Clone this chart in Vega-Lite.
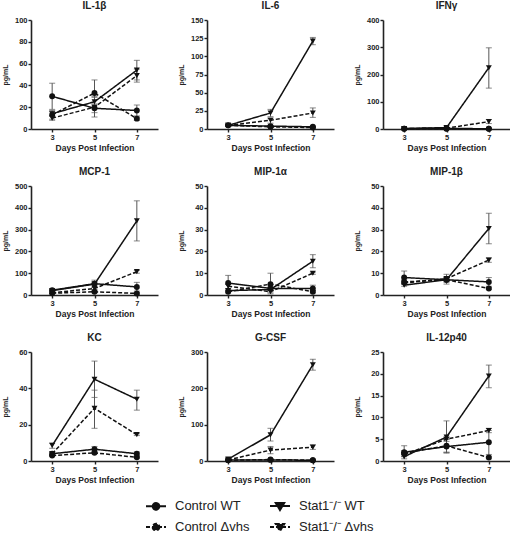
{
"$schema": "https://vega.github.io/schema/vega-lite/v6.json",
"padding": {"left": 1, "top": 1, "right": 0, "bottom": 0},
"data": {"values": [
{"c":"IL-1β","g":"Control WT","d":3,"m":30,"lo":18,"hi":42},
{"c":"IL-1β","g":"Control WT","d":5,"m":19,"lo":15,"hi":23},
{"c":"IL-1β","g":"Control WT","d":7,"m":17,"lo":12,"hi":22},
{"c":"IL-1β","g":"Control Δvhs","d":3,"m":13,"lo":9,"hi":17},
{"c":"IL-1β","g":"Control Δvhs","d":5,"m":33,"lo":22,"hi":45},
{"c":"IL-1β","g":"Control Δvhs","d":7,"m":9.5,"lo":8,"hi":11},
{"c":"IL-1β","g":"Stat1⁻/⁻ WT","d":3,"m":14,"lo":12,"hi":16},
{"c":"IL-1β","g":"Stat1⁻/⁻ WT","d":5,"m":25,"lo":20,"hi":30},
{"c":"IL-1β","g":"Stat1⁻/⁻ WT","d":7,"m":54,"lo":45,"hi":63},
{"c":"IL-1β","g":"Stat1⁻/⁻ Δvhs","d":3,"m":10,"lo":8,"hi":12},
{"c":"IL-1β","g":"Stat1⁻/⁻ Δvhs","d":5,"m":20,"lo":11,"hi":29},
{"c":"IL-1β","g":"Stat1⁻/⁻ Δvhs","d":7,"m":49,"lo":43,"hi":55},
{"c":"IL-6","g":"Control WT","d":3,"m":5,"lo":4,"hi":6},
{"c":"IL-6","g":"Control WT","d":5,"m":4,"lo":3,"hi":5},
{"c":"IL-6","g":"Control WT","d":7,"m":3,"lo":2,"hi":4},
{"c":"IL-6","g":"Control Δvhs","d":3,"m":5,"lo":4,"hi":6},
{"c":"IL-6","g":"Control Δvhs","d":5,"m":3,"lo":2,"hi":4},
{"c":"IL-6","g":"Control Δvhs","d":7,"m":2,"lo":1,"hi":3},
{"c":"IL-6","g":"Stat1⁻/⁻ WT","d":3,"m":5,"lo":4,"hi":6},
{"c":"IL-6","g":"Stat1⁻/⁻ WT","d":5,"m":22,"lo":17,"hi":27},
{"c":"IL-6","g":"Stat1⁻/⁻ WT","d":7,"m":121,"lo":116,"hi":126},
{"c":"IL-6","g":"Stat1⁻/⁻ Δvhs","d":3,"m":5,"lo":4,"hi":6},
{"c":"IL-6","g":"Stat1⁻/⁻ Δvhs","d":5,"m":12,"lo":8,"hi":15},
{"c":"IL-6","g":"Stat1⁻/⁻ Δvhs","d":7,"m":22,"lo":16,"hi":29},
{"c":"IFNγ","g":"Control WT","d":3,"m":1,"lo":1,"hi":1},
{"c":"IFNγ","g":"Control WT","d":5,"m":2,"lo":2,"hi":2},
{"c":"IFNγ","g":"Control WT","d":7,"m":1,"lo":1,"hi":1},
{"c":"IFNγ","g":"Control Δvhs","d":3,"m":1,"lo":1,"hi":1},
{"c":"IFNγ","g":"Control Δvhs","d":5,"m":1,"lo":1,"hi":1},
{"c":"IFNγ","g":"Control Δvhs","d":7,"m":1,"lo":1,"hi":1},
{"c":"IFNγ","g":"Stat1⁻/⁻ WT","d":3,"m":2,"lo":2,"hi":2},
{"c":"IFNγ","g":"Stat1⁻/⁻ WT","d":5,"m":5,"lo":3,"hi":7},
{"c":"IFNγ","g":"Stat1⁻/⁻ WT","d":7,"m":225,"lo":150,"hi":298},
{"c":"IFNγ","g":"Stat1⁻/⁻ Δvhs","d":3,"m":2,"lo":2,"hi":2},
{"c":"IFNγ","g":"Stat1⁻/⁻ Δvhs","d":5,"m":3,"lo":2,"hi":4},
{"c":"IFNγ","g":"Stat1⁻/⁻ Δvhs","d":7,"m":27,"lo":20,"hi":35},
{"c":"MCP-1","g":"Control WT","d":3,"m":22,"lo":15,"hi":28},
{"c":"MCP-1","g":"Control WT","d":5,"m":52,"lo":45,"hi":60},
{"c":"MCP-1","g":"Control WT","d":7,"m":37,"lo":18,"hi":58},
{"c":"MCP-1","g":"Control Δvhs","d":3,"m":8,"lo":5,"hi":11},
{"c":"MCP-1","g":"Control Δvhs","d":5,"m":15,"lo":10,"hi":20},
{"c":"MCP-1","g":"Control Δvhs","d":7,"m":7,"lo":3,"hi":11},
{"c":"MCP-1","g":"Stat1⁻/⁻ WT","d":3,"m":20,"lo":15,"hi":25},
{"c":"MCP-1","g":"Stat1⁻/⁻ WT","d":5,"m":50,"lo":35,"hi":68},
{"c":"MCP-1","g":"Stat1⁻/⁻ WT","d":7,"m":340,"lo":248,"hi":432},
{"c":"MCP-1","g":"Stat1⁻/⁻ Δvhs","d":3,"m":10,"lo":7,"hi":13},
{"c":"MCP-1","g":"Stat1⁻/⁻ Δvhs","d":5,"m":30,"lo":25,"hi":35},
{"c":"MCP-1","g":"Stat1⁻/⁻ Δvhs","d":7,"m":107,"lo":100,"hi":113},
{"c":"MIP-1α","g":"Control WT","d":3,"m":5.5,"lo":2,"hi":9},
{"c":"MIP-1α","g":"Control WT","d":5,"m":3,"lo":2,"hi":4},
{"c":"MIP-1α","g":"Control WT","d":7,"m":3,"lo":2,"hi":4.5},
{"c":"MIP-1α","g":"Control Δvhs","d":3,"m":1.5,"lo":1,"hi":2},
{"c":"MIP-1α","g":"Control Δvhs","d":5,"m":5,"lo":0.5,"hi":10},
{"c":"MIP-1α","g":"Control Δvhs","d":7,"m":1.5,"lo":1,"hi":2},
{"c":"MIP-1α","g":"Stat1⁻/⁻ WT","d":3,"m":2,"lo":1.5,"hi":2.5},
{"c":"MIP-1α","g":"Stat1⁻/⁻ WT","d":5,"m":2.5,"lo":2,"hi":3},
{"c":"MIP-1α","g":"Stat1⁻/⁻ WT","d":7,"m":15.5,"lo":12.5,"hi":18.5},
{"c":"MIP-1α","g":"Stat1⁻/⁻ Δvhs","d":3,"m":4,"lo":3,"hi":5},
{"c":"MIP-1α","g":"Stat1⁻/⁻ Δvhs","d":5,"m":1.5,"lo":1,"hi":2},
{"c":"MIP-1α","g":"Stat1⁻/⁻ Δvhs","d":7,"m":10,"lo":9.5,"hi":10.5},
{"c":"MIP-1β","g":"Control WT","d":3,"m":8,"lo":5.5,"hi":11},
{"c":"MIP-1β","g":"Control WT","d":5,"m":7,"lo":5,"hi":9.5},
{"c":"MIP-1β","g":"Control WT","d":7,"m":6,"lo":4,"hi":8},
{"c":"MIP-1β","g":"Control Δvhs","d":3,"m":6,"lo":5,"hi":7},
{"c":"MIP-1β","g":"Control Δvhs","d":5,"m":7,"lo":6,"hi":8},
{"c":"MIP-1β","g":"Control Δvhs","d":7,"m":3,"lo":2.5,"hi":3.5},
{"c":"MIP-1β","g":"Stat1⁻/⁻ WT","d":3,"m":4.5,"lo":4,"hi":5},
{"c":"MIP-1β","g":"Stat1⁻/⁻ WT","d":5,"m":7,"lo":6,"hi":8},
{"c":"MIP-1β","g":"Stat1⁻/⁻ WT","d":7,"m":30.5,"lo":23.5,"hi":37.5},
{"c":"MIP-1β","g":"Stat1⁻/⁻ Δvhs","d":3,"m":5.5,"lo":5,"hi":6},
{"c":"MIP-1β","g":"Stat1⁻/⁻ Δvhs","d":5,"m":7.5,"lo":6.5,"hi":8.5},
{"c":"MIP-1β","g":"Stat1⁻/⁻ Δvhs","d":7,"m":16,"lo":15,"hi":17},
{"c":"KC","g":"Control WT","d":3,"m":4,"lo":3,"hi":5},
{"c":"KC","g":"Control WT","d":5,"m":6.5,"lo":5,"hi":8},
{"c":"KC","g":"Control WT","d":7,"m":4,"lo":3,"hi":5},
{"c":"KC","g":"Control Δvhs","d":3,"m":3,"lo":2.5,"hi":3.5},
{"c":"KC","g":"Control Δvhs","d":5,"m":4.5,"lo":4,"hi":5},
{"c":"KC","g":"Control Δvhs","d":7,"m":2,"lo":1.5,"hi":2.5},
{"c":"KC","g":"Stat1⁻/⁻ WT","d":3,"m":8.5,"lo":7,"hi":10},
{"c":"KC","g":"Stat1⁻/⁻ WT","d":5,"m":45,"lo":35,"hi":55},
{"c":"KC","g":"Stat1⁻/⁻ WT","d":7,"m":34,"lo":28,"hi":39},
{"c":"KC","g":"Stat1⁻/⁻ Δvhs","d":3,"m":4,"lo":3,"hi":5},
{"c":"KC","g":"Stat1⁻/⁻ Δvhs","d":5,"m":29,"lo":18,"hi":39},
{"c":"KC","g":"Stat1⁻/⁻ Δvhs","d":7,"m":14.5,"lo":14,"hi":15},
{"c":"G-CSF","g":"Control WT","d":3,"m":3,"lo":3,"hi":3},
{"c":"G-CSF","g":"Control WT","d":5,"m":3,"lo":3,"hi":3},
{"c":"G-CSF","g":"Control WT","d":7,"m":2,"lo":2,"hi":2},
{"c":"G-CSF","g":"Control Δvhs","d":3,"m":2,"lo":2,"hi":2},
{"c":"G-CSF","g":"Control Δvhs","d":5,"m":4,"lo":4,"hi":4},
{"c":"G-CSF","g":"Control Δvhs","d":7,"m":2,"lo":2,"hi":2},
{"c":"G-CSF","g":"Stat1⁻/⁻ WT","d":3,"m":5,"lo":3,"hi":7},
{"c":"G-CSF","g":"Stat1⁻/⁻ WT","d":5,"m":72,"lo":55,"hi":90},
{"c":"G-CSF","g":"Stat1⁻/⁻ WT","d":7,"m":265,"lo":250,"hi":280},
{"c":"G-CSF","g":"Stat1⁻/⁻ Δvhs","d":3,"m":3,"lo":3,"hi":3},
{"c":"G-CSF","g":"Stat1⁻/⁻ Δvhs","d":5,"m":30,"lo":20,"hi":40},
{"c":"G-CSF","g":"Stat1⁻/⁻ Δvhs","d":7,"m":38,"lo":32,"hi":45},
{"c":"IL-12p40","g":"Control WT","d":3,"m":2,"lo":1,"hi":3.5},
{"c":"IL-12p40","g":"Control WT","d":5,"m":3.3,"lo":1.8,"hi":5},
{"c":"IL-12p40","g":"Control WT","d":7,"m":4.3,"lo":1.5,"hi":7},
{"c":"IL-12p40","g":"Control Δvhs","d":3,"m":1.8,"lo":1.2,"hi":2.4},
{"c":"IL-12p40","g":"Control Δvhs","d":5,"m":3.5,"lo":2,"hi":5},
{"c":"IL-12p40","g":"Control Δvhs","d":7,"m":0.8,"lo":0.5,"hi":1.1},
{"c":"IL-12p40","g":"Stat1⁻/⁻ WT","d":3,"m":1,"lo":0.5,"hi":1.5},
{"c":"IL-12p40","g":"Stat1⁻/⁻ WT","d":5,"m":5.5,"lo":2,"hi":9.2},
{"c":"IL-12p40","g":"Stat1⁻/⁻ WT","d":7,"m":19.5,"lo":16.8,"hi":22},
{"c":"IL-12p40","g":"Stat1⁻/⁻ Δvhs","d":3,"m":1.5,"lo":1,"hi":2},
{"c":"IL-12p40","g":"Stat1⁻/⁻ Δvhs","d":5,"m":5,"lo":4.5,"hi":5.5},
{"c":"IL-12p40","g":"Stat1⁻/⁻ Δvhs","d":7,"m":7,"lo":6.5,"hi":7.5}
]},
"columns": 3,
"spacing": {"row": 15, "column": 19},
"concat": [
{"title": "IL-1β", "width": 127, "height": 109,
 "transform": [{"filter": "datum.c == 'IL-1β'"}],
 "encoding": {
  "x": {"field": "d", "type": "quantitative", "scale": {"domain": [2, 8], "nice": false}, "axis": {"values": [3, 5, 7], "title": "Days Post Infection"}},
  "y": {"field": "m", "type": "quantitative", "title": "pg/mL", "scale": {"domain": [0, 100], "nice": false}, "axis": {"values": [0, 20, 40, 60, 80, 100]}}},
 "layer": [
  {"mark": {"type": "errorbar", "ticks": {"size": 6}, "color": "#555", "thickness": 1}, "encoding": {"y": {"field": "lo", "type": "quantitative", "title": "pg/mL", "scale": {"domain": [0, 100], "nice": false}}, "y2": {"field": "hi"}}},
  {"mark": {"type": "line", "color": "#111", "strokeWidth": 1.5}, "encoding": {"strokeDash": {"field": "g", "type": "nominal", "scale": {"domain": ["Control WT", "Control Δvhs", "Stat1⁻/⁻ WT", "Stat1⁻/⁻ Δvhs"], "range": [[1, 0], [4, 2], [1, 0], [4, 2]]}}}},
  {"transform": [{"filter": "indexof(datum.g, 'Control') === 0"}], "mark": {"type": "point", "shape": "circle", "filled": true, "color": "#111", "size": 35, "opacity": 1}},
  {"transform": [{"filter": "indexof(datum.g, 'Stat1') === 0"}], "mark": {"type": "point", "shape": "triangle-down", "filled": true, "color": "#111", "size": 35, "opacity": 1}},
  {"mark": {"type": "point", "filled": true, "color": "#111", "size": 10, "opacity": 0}, "encoding": {
    "shape": {"field": "g", "type": "nominal", "scale": {"domain": ["Control WT", "Control Δvhs", "Stat1⁻/⁻ WT", "Stat1⁻/⁻ Δvhs"], "range": ["M-1,0H1M0.33,0A0.33,0.33,0,1,1,-0.33,0A0.33,0.33,0,1,1,0.33,0Z", "M-1,0H1M0.33,0A0.33,0.33,0,1,1,-0.33,0A0.33,0.33,0,1,1,0.33,0Z", "M-1,0H1M-0.42,-0.3L0.42,-0.3L0,0.4Z", "M-1,0H1M-0.42,-0.3L0.42,-0.3L0,0.4Z"]}, "legend": {"title": null, "orient": "none", "legendX": 114, "legendY": 475, "columns": 2, "columnPadding": 16, "rowPadding": 2, "symbolSize": 400, "symbolStrokeWidth": 2, "symbolOpacity": 1, "symbolFillColor": "#111", "symbolStrokeColor": "#111", "labelFontSize": 13, "labelColor": "#222", "labelOffset": 8}},
    "strokeDash": {"field": "g", "type": "nominal", "legend": {"title": null, "orient": "none", "legendX": 114, "legendY": 475, "columns": 2, "columnPadding": 16, "rowPadding": 2, "symbolSize": 400, "symbolStrokeWidth": 2, "symbolOpacity": 1, "symbolFillColor": "#111", "symbolStrokeColor": "#111", "labelFontSize": 13, "labelColor": "#222", "labelOffset": 8}}}}
 ]},
{"title": "IL-6", "width": 127, "height": 109,
 "transform": [{"filter": "datum.c == 'IL-6'"}],
 "encoding": {
  "x": {"field": "d", "type": "quantitative", "scale": {"domain": [2, 8], "nice": false}, "axis": {"values": [3, 5, 7], "title": "Days Post Infection"}},
  "y": {"field": "m", "type": "quantitative", "title": "pg/mL", "scale": {"domain": [0, 150], "nice": false}, "axis": {"values": [0, 25, 50, 75, 100, 125, 150]}}},
 "layer": [
  {"mark": {"type": "errorbar", "ticks": {"size": 6}, "color": "#555", "thickness": 1}, "encoding": {"y": {"field": "lo", "type": "quantitative", "title": "pg/mL", "scale": {"domain": [0, 150], "nice": false}}, "y2": {"field": "hi"}}},
  {"mark": {"type": "line", "color": "#111", "strokeWidth": 1.5}, "encoding": {"strokeDash": {"field": "g", "type": "nominal"}}},
  {"transform": [{"filter": "indexof(datum.g, 'Control') === 0"}], "mark": {"type": "point", "shape": "circle", "filled": true, "color": "#111", "size": 35, "opacity": 1}},
  {"transform": [{"filter": "indexof(datum.g, 'Stat1') === 0"}], "mark": {"type": "point", "shape": "triangle-down", "filled": true, "color": "#111", "size": 35, "opacity": 1}}
 ]},
{"title": "IFNγ", "width": 127, "height": 109,
 "transform": [{"filter": "datum.c == 'IFNγ'"}],
 "encoding": {
  "x": {"field": "d", "type": "quantitative", "scale": {"domain": [2, 8], "nice": false}, "axis": {"values": [3, 5, 7], "title": "Days Post Infection"}},
  "y": {"field": "m", "type": "quantitative", "title": "pg/mL", "scale": {"domain": [0, 400], "nice": false}, "axis": {"values": [0, 100, 200, 300, 400]}}},
 "layer": [
  {"mark": {"type": "errorbar", "ticks": {"size": 6}, "color": "#555", "thickness": 1}, "encoding": {"y": {"field": "lo", "type": "quantitative", "title": "pg/mL", "scale": {"domain": [0, 400], "nice": false}}, "y2": {"field": "hi"}}},
  {"mark": {"type": "line", "color": "#111", "strokeWidth": 1.5}, "encoding": {"strokeDash": {"field": "g", "type": "nominal"}}},
  {"transform": [{"filter": "indexof(datum.g, 'Control') === 0"}], "mark": {"type": "point", "shape": "circle", "filled": true, "color": "#111", "size": 35, "opacity": 1}},
  {"transform": [{"filter": "indexof(datum.g, 'Stat1') === 0"}], "mark": {"type": "point", "shape": "triangle-down", "filled": true, "color": "#111", "size": 35, "opacity": 1}}
 ]},
{"title": "MCP-1", "width": 127, "height": 109,
 "transform": [{"filter": "datum.c == 'MCP-1'"}],
 "encoding": {
  "x": {"field": "d", "type": "quantitative", "scale": {"domain": [2, 8], "nice": false}, "axis": {"values": [3, 5, 7], "title": "Days Post Infection"}},
  "y": {"field": "m", "type": "quantitative", "title": "pg/mL", "scale": {"domain": [0, 500], "nice": false}, "axis": {"values": [0, 100, 200, 300, 400, 500]}}},
 "layer": [
  {"mark": {"type": "errorbar", "ticks": {"size": 6}, "color": "#555", "thickness": 1}, "encoding": {"y": {"field": "lo", "type": "quantitative", "title": "pg/mL", "scale": {"domain": [0, 500], "nice": false}}, "y2": {"field": "hi"}}},
  {"mark": {"type": "line", "color": "#111", "strokeWidth": 1.5}, "encoding": {"strokeDash": {"field": "g", "type": "nominal"}}},
  {"transform": [{"filter": "indexof(datum.g, 'Control') === 0"}], "mark": {"type": "point", "shape": "circle", "filled": true, "color": "#111", "size": 35, "opacity": 1}},
  {"transform": [{"filter": "indexof(datum.g, 'Stat1') === 0"}], "mark": {"type": "point", "shape": "triangle-down", "filled": true, "color": "#111", "size": 35, "opacity": 1}}
 ]},
{"title": "MIP-1α", "width": 127, "height": 109,
 "transform": [{"filter": "datum.c == 'MIP-1α'"}],
 "encoding": {
  "x": {"field": "d", "type": "quantitative", "scale": {"domain": [2, 8], "nice": false}, "axis": {"values": [3, 5, 7], "title": "Days Post Infection"}},
  "y": {"field": "m", "type": "quantitative", "title": "pg/mL", "scale": {"domain": [0, 50], "nice": false}, "axis": {"values": [0, 10, 20, 30, 40, 50]}}},
 "layer": [
  {"mark": {"type": "errorbar", "ticks": {"size": 6}, "color": "#555", "thickness": 1}, "encoding": {"y": {"field": "lo", "type": "quantitative", "title": "pg/mL", "scale": {"domain": [0, 50], "nice": false}}, "y2": {"field": "hi"}}},
  {"mark": {"type": "line", "color": "#111", "strokeWidth": 1.5}, "encoding": {"strokeDash": {"field": "g", "type": "nominal"}}},
  {"transform": [{"filter": "indexof(datum.g, 'Control') === 0"}], "mark": {"type": "point", "shape": "circle", "filled": true, "color": "#111", "size": 35, "opacity": 1}},
  {"transform": [{"filter": "indexof(datum.g, 'Stat1') === 0"}], "mark": {"type": "point", "shape": "triangle-down", "filled": true, "color": "#111", "size": 35, "opacity": 1}}
 ]},
{"title": "MIP-1β", "width": 127, "height": 109,
 "transform": [{"filter": "datum.c == 'MIP-1β'"}],
 "encoding": {
  "x": {"field": "d", "type": "quantitative", "scale": {"domain": [2, 8], "nice": false}, "axis": {"values": [3, 5, 7], "title": "Days Post Infection"}},
  "y": {"field": "m", "type": "quantitative", "title": "pg/mL", "scale": {"domain": [0, 50], "nice": false}, "axis": {"values": [0, 10, 20, 30, 40, 50]}}},
 "layer": [
  {"mark": {"type": "errorbar", "ticks": {"size": 6}, "color": "#555", "thickness": 1}, "encoding": {"y": {"field": "lo", "type": "quantitative", "title": "pg/mL", "scale": {"domain": [0, 50], "nice": false}}, "y2": {"field": "hi"}}},
  {"mark": {"type": "line", "color": "#111", "strokeWidth": 1.5}, "encoding": {"strokeDash": {"field": "g", "type": "nominal"}}},
  {"transform": [{"filter": "indexof(datum.g, 'Control') === 0"}], "mark": {"type": "point", "shape": "circle", "filled": true, "color": "#111", "size": 35, "opacity": 1}},
  {"transform": [{"filter": "indexof(datum.g, 'Stat1') === 0"}], "mark": {"type": "point", "shape": "triangle-down", "filled": true, "color": "#111", "size": 35, "opacity": 1}}
 ]},
{"title": "KC", "width": 127, "height": 109,
 "transform": [{"filter": "datum.c == 'KC'"}],
 "encoding": {
  "x": {"field": "d", "type": "quantitative", "scale": {"domain": [2, 8], "nice": false}, "axis": {"values": [3, 5, 7], "title": "Days Post Infection"}},
  "y": {"field": "m", "type": "quantitative", "title": "pg/mL", "scale": {"domain": [0, 60], "nice": false}, "axis": {"values": [0, 20, 40, 60]}}},
 "layer": [
  {"mark": {"type": "errorbar", "ticks": {"size": 6}, "color": "#555", "thickness": 1}, "encoding": {"y": {"field": "lo", "type": "quantitative", "title": "pg/mL", "scale": {"domain": [0, 60], "nice": false}}, "y2": {"field": "hi"}}},
  {"mark": {"type": "line", "color": "#111", "strokeWidth": 1.5}, "encoding": {"strokeDash": {"field": "g", "type": "nominal"}}},
  {"transform": [{"filter": "indexof(datum.g, 'Control') === 0"}], "mark": {"type": "point", "shape": "circle", "filled": true, "color": "#111", "size": 35, "opacity": 1}},
  {"transform": [{"filter": "indexof(datum.g, 'Stat1') === 0"}], "mark": {"type": "point", "shape": "triangle-down", "filled": true, "color": "#111", "size": 35, "opacity": 1}}
 ]},
{"title": "G-CSF", "width": 127, "height": 109,
 "transform": [{"filter": "datum.c == 'G-CSF'"}],
 "encoding": {
  "x": {"field": "d", "type": "quantitative", "scale": {"domain": [2, 8], "nice": false}, "axis": {"values": [3, 5, 7], "title": "Days Post Infection"}},
  "y": {"field": "m", "type": "quantitative", "title": "pg/mL", "scale": {"domain": [0, 300], "nice": false}, "axis": {"values": [0, 100, 200, 300]}}},
 "layer": [
  {"mark": {"type": "errorbar", "ticks": {"size": 6}, "color": "#555", "thickness": 1}, "encoding": {"y": {"field": "lo", "type": "quantitative", "title": "pg/mL", "scale": {"domain": [0, 300], "nice": false}}, "y2": {"field": "hi"}}},
  {"mark": {"type": "line", "color": "#111", "strokeWidth": 1.5}, "encoding": {"strokeDash": {"field": "g", "type": "nominal"}}},
  {"transform": [{"filter": "indexof(datum.g, 'Control') === 0"}], "mark": {"type": "point", "shape": "circle", "filled": true, "color": "#111", "size": 35, "opacity": 1}},
  {"transform": [{"filter": "indexof(datum.g, 'Stat1') === 0"}], "mark": {"type": "point", "shape": "triangle-down", "filled": true, "color": "#111", "size": 35, "opacity": 1}}
 ]},
{"title": "IL-12p40", "width": 127, "height": 109,
 "transform": [{"filter": "datum.c == 'IL-12p40'"}],
 "encoding": {
  "x": {"field": "d", "type": "quantitative", "scale": {"domain": [2, 8], "nice": false}, "axis": {"values": [3, 5, 7], "title": "Days Post Infection"}},
  "y": {"field": "m", "type": "quantitative", "title": "pg/mL", "scale": {"domain": [0, 25], "nice": false}, "axis": {"values": [0, 5, 10, 15, 20, 25]}}},
 "layer": [
  {"mark": {"type": "errorbar", "ticks": {"size": 6}, "color": "#555", "thickness": 1}, "encoding": {"y": {"field": "lo", "type": "quantitative", "title": "pg/mL", "scale": {"domain": [0, 25], "nice": false}}, "y2": {"field": "hi"}}},
  {"mark": {"type": "line", "color": "#111", "strokeWidth": 1.5}, "encoding": {"strokeDash": {"field": "g", "type": "nominal"}}},
  {"transform": [{"filter": "indexof(datum.g, 'Control') === 0"}], "mark": {"type": "point", "shape": "circle", "filled": true, "color": "#111", "size": 35, "opacity": 1}},
  {"transform": [{"filter": "indexof(datum.g, 'Stat1') === 0"}], "mark": {"type": "point", "shape": "triangle-down", "filled": true, "color": "#111", "size": 35, "opacity": 1}}
 ]}
],
"config": {
 "font": "Liberation Sans",
 "view": {"stroke": null},
 "title": {"fontSize": 10, "fontWeight": "bold", "color": "#222", "offset": 5},
 "axis": {"grid": false, "domainColor": "#222", "domainWidth": 1.6, "tickColor": "#222", "tickWidth": 1.4, "tickSize": 3, "labelFontSize": 7.5, "labelFontWeight": "bold", "labelColor": "#222", "labelPadding": 1, "titleFontSize": 8.5, "titleFontWeight": "bold", "titleColor": "#222"},
 "axisY": {"titleFontSize": 7, "titleX": -22.5},
 "axisX": {"titlePadding": 3}
}
}
